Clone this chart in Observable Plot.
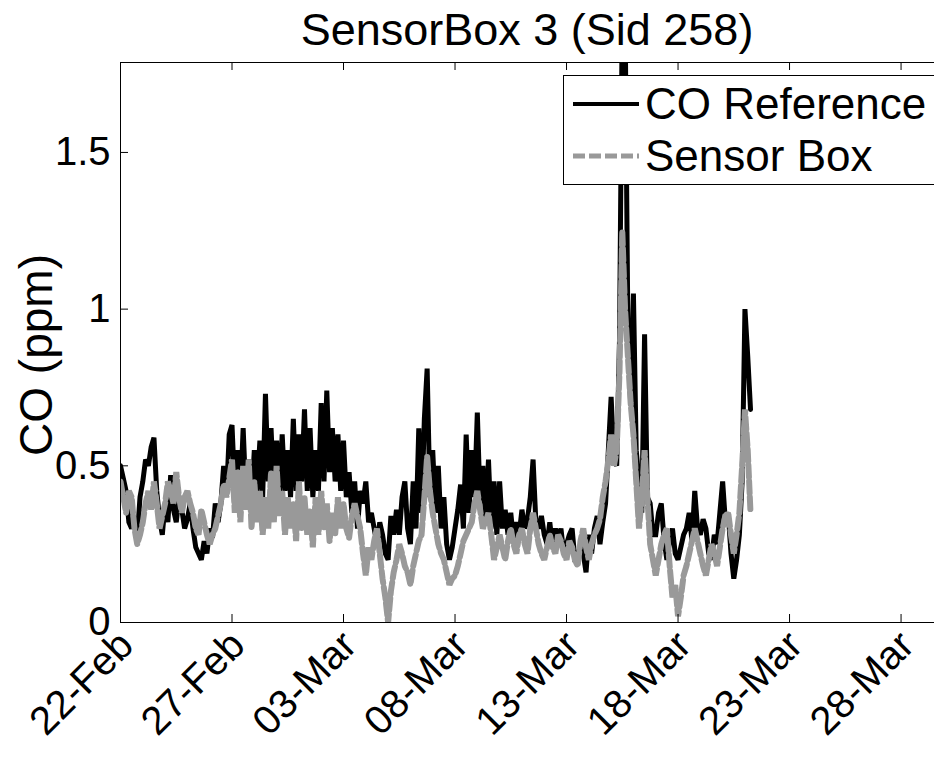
<!DOCTYPE html>
<html>
<head>
<meta charset="utf-8">
<script src="https://cdn.jsdelivr.net/npm/d3@7"></script>
<script src="https://cdn.jsdelivr.net/npm/@observablehq/plot@0.6"></script>
<style>
  html, body { margin: 0; background: #fff; overflow: hidden; }
  body { font-family: "Liberation Sans", Arial, Helvetica, sans-serif; color: #000; }
  #wrap { position: relative; width: 934px; height: 758px; overflow: hidden; }
  #title { position: absolute; left: 120px; width: 814px; top: 5px; text-align: center; font-size: 45px; line-height: 50px; }
  #ylabel { position: absolute; left: 36px; top: 355px; font-size: 46px; white-space: nowrap;
            transform: translate(-50%, -50%) rotate(-90deg); }
  #legend { position: absolute; left: 563px; top: 75px; width: 390px; height: 110px;
            border: 1px solid #000; background: #fff; box-sizing: border-box; }
  .row { position: absolute; left: 9px; display: flex; align-items: center; font-size: 44px; line-height: 50px; }
  .row svg { margin-right: 6px; }
</style>
</head>
<body>
<div id="wrap">
  <div id="chart"></div>
  <div id="title">SensorBox 3 (Sid 258)</div>
  <div id="ylabel">CO (ppm)</div>
  <div id="legend"></div>
</div>
<script>
// Three-hourly CO readings starting 22 Feb 2016 00:00 UTC
const startDate = Date.UTC(2016, 1, 22);
const stepHours = 3;

// CO reference analyser (ppm)
const coReference = [
  0.50, 0.46, 0.42, 0.32, 0.30, 0.34, 0.27, 0.40, 0.45, 0.52,
  0.50, 0.56, 0.59, 0.42, 0.33, 0.28, 0.38, 0.32, 0.47, 0.36,
  0.32, 0.40, 0.36, 0.30, 0.33, 0.38, 0.30, 0.24, 0.22, 0.20,
  0.26, 0.22, 0.30, 0.27, 0.38, 0.32, 0.38, 0.50, 0.40, 0.60,
  0.63, 0.42, 0.55, 0.40, 0.62, 0.40, 0.52, 0.38, 0.55, 0.42,
  0.58, 0.40, 0.73, 0.45, 0.62, 0.42, 0.58, 0.40, 0.60, 0.42,
  0.55, 0.40, 0.65, 0.42, 0.60, 0.45, 0.68, 0.42, 0.62, 0.40,
  0.55, 0.42, 0.70, 0.45, 0.74, 0.48, 0.62, 0.45, 0.60, 0.42,
  0.58, 0.40, 0.48, 0.35, 0.45, 0.30, 0.42, 0.38, 0.45, 0.32,
  0.35, 0.30, 0.25, 0.32, 0.28, 0.22, 0.20, 0.34, 0.28, 0.36,
  0.28, 0.40, 0.45, 0.30, 0.25, 0.45, 0.30, 0.62, 0.35, 0.65,
  0.81, 0.40, 0.55, 0.35, 0.50, 0.30, 0.40, 0.25, 0.20, 0.24,
  0.30, 0.36, 0.44, 0.30, 0.60, 0.35, 0.55, 0.40, 0.67, 0.38,
  0.50, 0.32, 0.52, 0.30, 0.45, 0.28, 0.45, 0.30, 0.36, 0.28,
  0.35, 0.26, 0.32, 0.28, 0.36, 0.30, 0.33, 0.40, 0.52, 0.32,
  0.30, 0.34, 0.28, 0.25, 0.32, 0.24, 0.30, 0.26, 0.30, 0.22,
  0.25, 0.28, 0.30, 0.20, 0.20, 0.25, 0.22, 0.16, 0.28, 0.22,
  0.30, 0.34, 0.25, 0.32, 0.38, 0.55, 0.72, 0.52, 0.50, 0.90,
  1.95, 1.95, 0.95, 0.70, 1.05, 0.55, 0.45, 0.35, 0.92, 0.40,
  0.38, 0.28, 0.28, 0.35, 0.38, 0.26, 0.20, 0.26, 0.30, 0.22,
  0.20, 0.24, 0.28, 0.30, 0.35, 0.26, 0.42, 0.30, 0.28, 0.33,
  0.30, 0.22, 0.20, 0.28, 0.25, 0.35, 0.45, 0.32, 0.35, 0.22,
  0.14, 0.20, 0.28, 0.45, 1.00, 0.85, 0.68
];

// Sensor box estimate (ppm)
const sensorBox = [
  0.45, 0.40, 0.35, 0.42, 0.40, 0.30, 0.25, 0.28, 0.32, 0.38,
  0.42, 0.36, 0.45, 0.38, 0.30, 0.34, 0.38, 0.45, 0.42, 0.38,
  0.48, 0.40, 0.35, 0.40, 0.42, 0.38, 0.35, 0.30, 0.28, 0.36,
  0.32, 0.28, 0.25, 0.28, 0.30, 0.34, 0.38, 0.44, 0.40, 0.46,
  0.52, 0.35, 0.48, 0.32, 0.50, 0.36, 0.52, 0.30, 0.45, 0.32,
  0.42, 0.28, 0.40, 0.30, 0.48, 0.32, 0.50, 0.34, 0.42, 0.28,
  0.40, 0.30, 0.38, 0.26, 0.45, 0.30, 0.40, 0.28, 0.36, 0.24,
  0.40, 0.28, 0.42, 0.30, 0.38, 0.26, 0.35, 0.28, 0.40, 0.30,
  0.38, 0.30, 0.27, 0.34, 0.38, 0.34, 0.30, 0.22, 0.15, 0.24,
  0.20, 0.26, 0.30, 0.22, 0.14, 0.08, 0.00, 0.10, 0.16, 0.20,
  0.25, 0.22, 0.18, 0.16, 0.12, 0.18, 0.22, 0.26, 0.28, 0.40,
  0.53, 0.42, 0.35, 0.30, 0.25, 0.22, 0.20, 0.16, 0.12, 0.14,
  0.15, 0.18, 0.22, 0.26, 0.28, 0.30, 0.32, 0.38, 0.42, 0.36,
  0.30, 0.32, 0.35, 0.28, 0.20, 0.24, 0.28, 0.24, 0.20, 0.26,
  0.30, 0.25, 0.22, 0.28, 0.30, 0.25, 0.22, 0.30, 0.35, 0.30,
  0.25, 0.22, 0.20, 0.24, 0.28, 0.24, 0.22, 0.28, 0.26, 0.22,
  0.20, 0.26, 0.24, 0.20, 0.18, 0.26, 0.30, 0.24, 0.20, 0.25,
  0.28, 0.30, 0.33, 0.40, 0.45, 0.52, 0.60, 0.50, 0.55, 0.80,
  1.25, 1.00, 0.85, 0.70, 0.60, 0.45, 0.30, 0.40, 0.55, 0.40,
  0.25, 0.20, 0.15, 0.20, 0.25, 0.28, 0.30, 0.18, 0.08, 0.12,
  0.02, 0.08, 0.15, 0.18, 0.22, 0.26, 0.30, 0.26, 0.22, 0.18,
  0.15, 0.20, 0.25, 0.22, 0.18, 0.24, 0.30, 0.34, 0.35, 0.28,
  0.22, 0.28, 0.35, 0.50, 0.68, 0.55, 0.35
];

// Axis ticks
const xTickLabels = ["2016-02-22", "2016-02-27", "2016-03-03", "2016-03-08",
                     "2016-03-13", "2016-03-18", "2016-03-23", "2016-03-28"];
const yTickValues = [0, 0.5, 1, 1.5];
const xDomain = [new Date(Date.UTC(2016, 1, 22)), new Date(Date.UTC(2016, 2, 29, 12))];
const yDomain = [0, 1.787];

const seriesNames = ["CO Reference", "Sensor Box"];
const seriesColors = ["#000000", "#999999"];

const rows = coReference.map((v, i) => ({
  t: new Date(startDate + i * stepHours * 3600e3),
  ref: v,
  box: sensorBox[i]
}));
const xTicks = xTickLabels.map(s => new Date(s + "T00:00:00Z"));

const W = 934, H = 758, mT = 62, mB = 136, mL = 120, mR = 0;
const innerH = H - mT - mB, innerW = W - mL - mR;

const chart = Plot.plot({
  width: W, height: H,
  marginTop: mT, marginBottom: mB, marginLeft: mL, marginRight: mR,
  x: { type: "utc", domain: xDomain },
  y: { domain: yDomain },
  style: { fontFamily: "Liberation Sans, Arial, sans-serif", fontSize: "40px", color: "#000", background: "#fff" },
  marks: [
    Plot.line(rows, { x: "t", y: "ref", stroke: seriesColors[0], strokeWidth: 5,
      strokeLinejoin: "miter", strokeMiterlimit: 1.5, clip: true }),
    Plot.line(rows, { x: "t", y: "box", stroke: seriesColors[1], strokeWidth: 6,
      strokeDasharray: "12,4", strokeLinejoin: "miter", strokeMiterlimit: 1.5, clip: true }),
    // axes box (left, top, bottom)
    Plot.ruleY([yDomain[0]], { stroke: "#000", strokeWidth: 1 }),
    Plot.ruleY([yDomain[1]], { stroke: "#000", strokeWidth: 1 }),
    Plot.ruleX([xDomain[0]], { stroke: "#000", strokeWidth: 1 }),
    // inward ticks
    Plot.tickX(xTicks, { x: d => d, insetTop: innerH - 8, stroke: "#000" }),
    Plot.tickX(xTicks, { x: d => d, insetBottom: innerH - 8, stroke: "#000" }),
    Plot.tickY(yTickValues, { y: d => d, insetRight: innerW - 8, stroke: "#000" }),
    Plot.axisX(xTicks, { tickSize: 0, tickRotate: -45, tickPadding: 16, dx: 6,
      tickFormat: d3.utcFormat("%d-%b"), fontSize: 40, label: null }),
    Plot.axisY(yTickValues, { tickSize: 0, tickPadding: 10, tickFormat: d => String(d),
      fontSize: 40, label: null })
  ]
});
document.getElementById("chart").appendChild(chart);

// legend entries
const legend = document.getElementById("legend");
seriesNames.forEach((name, i) => {
  const row = document.createElement("div");
  row.className = "row";
  row.style.top = (i === 0 ? 3 : 55) + "px";
  const dash = i === 0 ? "" : ' stroke-dasharray="12,4"';
  row.innerHTML = `<svg width="66" height="12"><line x1="0" y1="6" x2="66" y2="6" stroke="${seriesColors[i]}" stroke-width="${i === 0 ? 4 : 5}"${dash}/></svg><span>${name}</span>`;
  legend.appendChild(row);
});
</script>
</body>
</html>
